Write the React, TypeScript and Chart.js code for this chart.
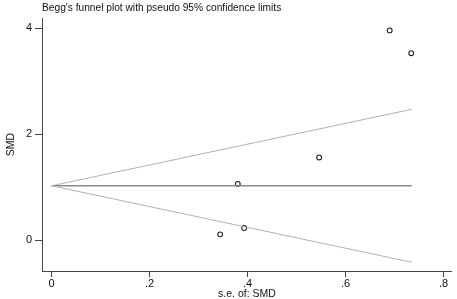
import React, { useEffect, useRef } from "react";
import { Chart, registerables } from "chart.js";

Chart.register(...registerables);

// Study data: standard error and SMD
const studySE = [0.690, 0.734, 0.546, 0.380, 0.393, 0.344];
const studySMD = [3.96, 3.53, 1.56, 1.06, 0.226, 0.107];

// Pooled estimate line and pseudo 95% limits (endpoints)
const limitSE = [0, 0.735];
const pooledLine = [1.025, 1.025];
const upperLimit = [1.025, 2.47];
const lowerLimit = [1.025, -0.42];

const xTicks = [0, 0.2, 0.4, 0.6, 0.8];
const yTicks = [0, 2, 4];

const FONT = "'Liberation Sans', Arial, Helvetica, sans-serif";

export default function App() {
  const ref = useRef<HTMLCanvasElement>(null);

  useEffect(() => {
    if (!ref.current) return;
    const toPts = (xs: number[], ys: number[]) => xs.map((x, i) => ({ x, y: ys[i] }));
    const chart = new Chart(ref.current, {
      type: "scatter",
      data: {
        datasets: [
          {
            data: toPts(limitSE, upperLimit),
            showLine: true,
            borderColor: "#b0b0b0",
            borderWidth: 1,
            pointRadius: 0,
          },
          {
            data: toPts(limitSE, lowerLimit),
            showLine: true,
            borderColor: "#b0b0b0",
            borderWidth: 1,
            pointRadius: 0,
          },
          {
            data: toPts(limitSE, pooledLine),
            showLine: true,
            borderColor: "#8a8a8a",
            borderWidth: 1.5,
            pointRadius: 0,
          },
          {
            data: toPts(studySE, studySMD),
            showLine: false,
            pointRadius: 2.4,
            pointBorderWidth: 1.1,
            pointBorderColor: "#222",
            pointBackgroundColor: "rgba(255,255,255,0)",
          },
        ],
      },
      options: {
        animation: false,
        responsive: false,
        maintainAspectRatio: false,
        layout: { padding: { right: 3, top: 0, left: 0, bottom: 0 } },
        plugins: {
          legend: { display: false },
          tooltip: { enabled: false },
          title: {
            display: true,
            text: "Begg's funnel plot with pseudo 95% confidence limits",
            align: "start",
            fullSize: false,
            color: "#111",
            font: { family: FONT, size: 10.2, weight: "normal", lineHeight: 1.2 },
            padding: { top: 2, bottom: 4 },
          },
        },
        scales: {
          x: {
            type: "linear",
            min: -0.0197,
            max: 0.817,
            afterBuildTicks: (s: any) => {
              s.ticks = xTicks.map((v) => ({ value: v }));
            },
            afterFit: (s: any) => {
              s.height = 28;
            },
            ticks: {
              color: "#111",
              padding: 0,
              font: { family: FONT, size: 11 },
              callback: (v: any) => (v === 0 ? "0" : String(Number(v).toFixed(1)).replace(/^0/, "")),
            },
            grid: {
              drawOnChartArea: false,
              drawTicks: true,
              tickLength: 6,
              color: "#444",
            },
            border: { display: true, color: "#444", width: 1 },
            title: {
              display: true,
              text: "s.e. of: SMD",
              color: "#111",
              font: { family: FONT, size: 10.5, lineHeight: 1.0 },
              padding: 0,
            },
          },
          y: {
            type: "linear",
            min: -0.585,
            max: 4.19,
            afterBuildTicks: (s: any) => {
              s.ticks = yTicks.map((v) => ({ value: v }));
            },
            afterFit: (s: any) => {
              s.width = 42;
            },
            ticks: {
              color: "#111",
              padding: 3,
              font: { family: FONT, size: 11 },
            },
            grid: {
              drawOnChartArea: false,
              drawTicks: true,
              tickLength: 7,
              color: "#444",
            },
            border: { display: true, color: "#444", width: 1 },
            title: {
              display: true,
              text: "SMD",
              color: "#111",
              font: { family: FONT, size: 10.5, lineHeight: 1.2 },
              padding: { top: 5, bottom: 0 },
            },
          },
        },
      } as any,
    });
    return () => chart.destroy();
  }, []);

  return (
    <div style={{ position: "absolute", left: 0, top: 0, width: 457, height: 299, background: "#fff" }}>
      <canvas ref={ref} width={457} height={299} style={{ width: 457, height: 299, display: "block" }} />
    </div>
  );
}
